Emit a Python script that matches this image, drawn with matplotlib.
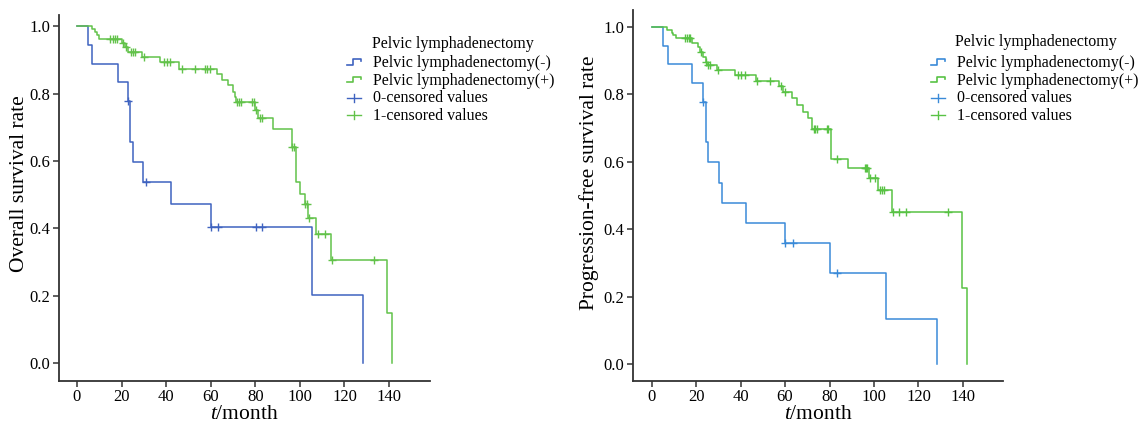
import numpy as np
import matplotlib
matplotlib.use("Agg")
import matplotlib.pyplot as plt
from matplotlib.lines import Line2D
from matplotlib.legend_handler import HandlerBase

plt.rcParams["font.family"] = ["Liberation Serif", "DejaVu Serif"]
plt.rcParams["mathtext.fontset"] = "custom"
plt.rcParams["mathtext.rm"] = "Liberation Serif"
plt.rcParams["mathtext.it"] = "Liberation Serif:italic"

# ---- Overall survival: step times (months) and survival level after each drop ----
os_neg_times = [5.1, 6.9, 18.2, 23.0, 23.8, 25.0, 29.8, 42.2, 60.1, 105.3, 128.2]
os_neg_surv = [0.944, 0.889, 0.833, 0.778, 0.657, 0.597, 0.536, 0.471, 0.404, 0.202, 0.0]
os_neg_cens = [23.0, 31.0, 60.1, 63.1, 80.3, 83.1]

os_pos_times = [6.9, 8.1, 9.1, 10.0, 20.0, 21.5, 23.0, 29.0, 37.2, 45.9, 62.7, 65.2,
                67.8, 69.8, 70.9, 71.5, 79.9, 81.3, 88.1, 96.3, 98.2, 100.0, 102.3,
                103.8, 107.2, 114.2, 139.2, 141.2]
os_pos_surv = [0.991, 0.983, 0.973, 0.963, 0.950, 0.939, 0.924, 0.909, 0.894, 0.874,
               0.858, 0.840, 0.825, 0.805, 0.790, 0.775, 0.751, 0.726, 0.696, 0.640,
               0.538, 0.503, 0.472, 0.432, 0.383, 0.306, 0.150, 0.0]
os_pos_cens = [15.0, 16.0, 17.0, 18.0, 20.8, 21.8, 24.2, 25.0, 26.0, 30.1, 39.0, 40.3,
               41.7, 47.0, 53.0, 57.5, 58.5, 59.5, 71.8, 72.8, 73.8, 78.5, 79.3, 80.5,
               82.0, 83.2, 96.5, 97.3, 102.5, 103.2, 104.3, 108.0, 111.3, 114.4, 133.2]

# ---- Progression-free survival ----
pfs_neg_times = [5.2, 7.2, 18.3, 23.2, 24.4, 25.2, 30.4, 31.5, 42.3, 60.2, 80.2, 105.4, 128.4]
pfs_neg_surv = [0.944, 0.889, 0.833, 0.778, 0.658, 0.598, 0.538, 0.478, 0.418, 0.359,
                0.269, 0.135, 0.0]
pfs_neg_cens = [23.2, 60.2, 63.4, 83.5]

pfs_pos_times = [7.0, 9.0, 9.7, 10.8, 18.0, 21.0, 21.7, 23.2, 24.4, 25.0, 29.5, 37.5,
                 46.9, 57.2, 59.2, 63.2, 65.2, 68.2, 70.4, 71.9, 80.5, 88.4, 97.8,
                 101.9, 108.2, 139.4, 141.6]
pfs_pos_surv = [0.992, 0.982, 0.975, 0.966, 0.953, 0.941, 0.926, 0.911, 0.896, 0.886,
                0.872, 0.857, 0.840, 0.824, 0.807, 0.788, 0.768, 0.748, 0.731, 0.696,
                0.607, 0.583, 0.551, 0.516, 0.450, 0.226, 0.0]
pfs_pos_cens = [15.2, 16.0, 16.6, 17.3, 22.2, 24.6, 25.5, 26.2, 30.0, 39.0, 40.0, 41.8,
                47.2, 53.2, 58.0, 59.9, 72.8, 73.5, 74.2, 78.7, 79.4, 83.2, 95.9, 96.5,
                97.0, 98.2, 100.4, 102.5, 103.5, 104.6, 108.4, 111.3, 114.3, 133.4]

x_ticks = [0, 20, 40, 60, 80, 100, 120, 140]
y_ticks = [0.0, 0.2, 0.4, 0.6, 0.8, 1.0]
legend_title = "Pelvic lymphadenectomy"
legend_labels = ["Pelvic lymphadenectomy(-)", "Pelvic lymphadenectomy(+)",
                 "0-censored values", "1-censored values"]


def level_at(times, surv, t):
    i = np.searchsorted(times, t, side="right")
    return 1.0 if i == 0 else surv[i - 1]


class StepHandler(HandlerBase):
    def create_artists(self, legend, orig_handle, xdescent, ydescent, width, height,
                       fontsize, trans):
        x0, y0 = -xdescent, -ydescent
        xs = [x0, x0 + 0.45 * width, x0 + 0.45 * width, x0 + width, x0 + width]
        ys = [y0 + 0.2 * height, y0 + 0.2 * height, y0 + 0.7 * height,
              y0 + 0.7 * height, y0 + 0.5 * height]
        ln = Line2D(xs, ys, color=orig_handle.get_color(), lw=1.2)
        ln.set_transform(trans)
        return [ln]


class CensorHandler(HandlerBase):
    def create_artists(self, legend, orig_handle, xdescent, ydescent, width, height,
                       fontsize, trans):
        x0, y0 = -xdescent, -ydescent
        ym = y0 + 0.4 * height
        h = Line2D([x0, x0 + width], [ym, ym], color=orig_handle.get_color(), lw=1.0)
        v = Line2D([x0 + 0.5 * width] * 2, [ym - 0.35 * height, ym + 0.35 * height],
                   color=orig_handle.get_color(), lw=1.0)
        h.set_transform(trans)
        v.set_transform(trans)
        return [h, v]


def draw_panel(ax, curves, ylabel, ylabelpad, ylabel_y, xlim, ylim, blue, green, leg_x,
               title_x, title_y, fig):
    colors = [blue, green]
    for (times, surv, cens), col in zip(curves, colors):
        ax.step([0.0] + list(times), [1.0] + list(surv), where="post", color=col, lw=1.1)
        cy = [level_at(times, surv, c) for c in cens]
        ax.plot(cens, cy, linestyle="none", marker="+", markersize=6, mew=1.0, color=col)
    ax.set_xlim(*xlim)
    ax.set_ylim(*ylim)
    ax.set_xticks(x_ticks)
    ax.set_yticks(y_ticks)
    ax.set_yticklabels([f"{v:.1f}" for v in y_ticks])
    for s in ("top", "right"):
        ax.spines[s].set_visible(False)
    for s in ("left", "bottom"):
        ax.spines[s].set_color("#333333")
        ax.spines[s].set_linewidth(1.3)
    ax.tick_params(direction="out", length=4, width=1.1, color="#333333",
                   labelsize=12, pad=2)
    ax.set_xlabel(r"$\it{t}$/month", fontsize=15.5, labelpad=0)
    ax.set_ylabel(ylabel, fontsize=15.5, labelpad=ylabelpad)
    ax.yaxis.label.set_y(ylabel_y)

    handles = [Line2D([], [], color=blue), Line2D([], [], color=green),
               Line2D([], [], color=blue), Line2D([], [], color=green)]
    hmap = {handles[0]: StepHandler(), handles[1]: StepHandler(),
            handles[2]: CensorHandler(), handles[3]: CensorHandler()}
    ax.legend(handles, legend_labels, handler_map=hmap, loc="upper left",
              bbox_to_anchor=(leg_x, 1 - 55 / 430), bbox_transform=fig.transFigure,
              frameon=False, fontsize=11.5, handlelength=0.9, handletextpad=0.7,
              labelspacing=0.1, borderpad=0, borderaxespad=0)
    fig.text(title_x, title_y, legend_title, fontsize=11.5, va="center", ha="left")


fig = plt.figure(figsize=(11.42, 4.30), dpi=100)
ax1 = fig.add_axes([58.5 / 1142, 49 / 430, (430 - 58.5) / 1142, (381 - 15) / 430])
ax2 = fig.add_axes([632.7 / 1142, 49 / 430, (1003 - 632.7) / 1142, (381 - 10) / 430])

draw_panel(ax1, [(os_neg_times, os_neg_surv, os_neg_cens),
                 (os_pos_times, os_pos_surv, os_pos_cens)],
           "Overall survival rate", 0, 0.54, (-8.3, 158.4), (-0.053, 1.033),
           "#3f63c0", "#62c24a", 347 / 1142, 372 / 1142, 1 - 43.5 / 430, fig)
draw_panel(ax2, [(pfs_neg_times, pfs_neg_surv, pfs_neg_cens),
                 (pfs_pos_times, pfs_pos_surv, pfs_pos_cens)],
           "Progression-free survival rate", 3.5, 0.535, (-8.5, 158.0), (-0.05, 1.05),
           "#3a8ad8", "#58c244", 931 / 1142, 955 / 1142, 1 - 42 / 430, fig)

fig.savefig("out.png", dpi=100)
